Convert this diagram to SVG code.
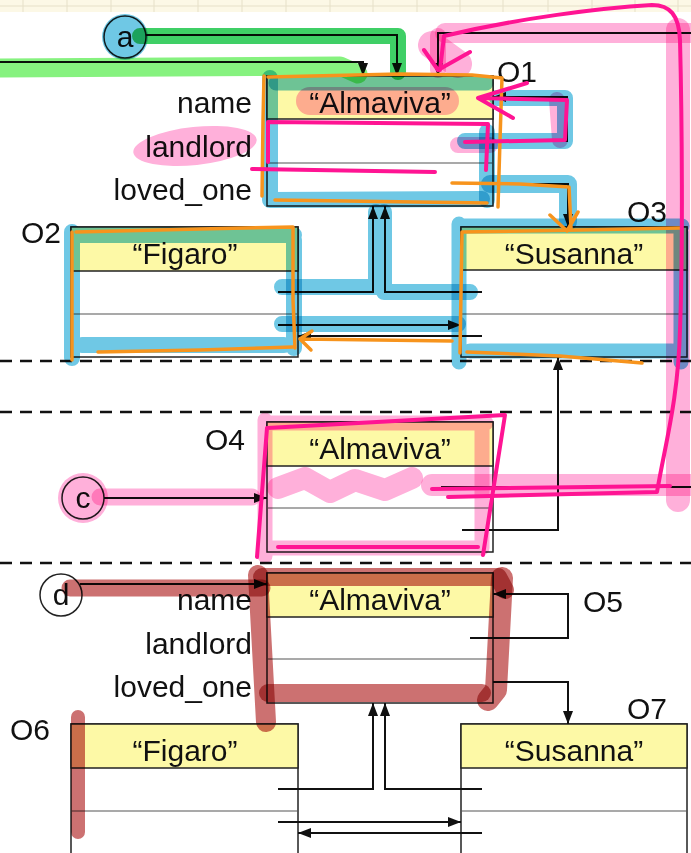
<svg xmlns="http://www.w3.org/2000/svg" width="691" height="853" viewBox="0 0 691 853">
<defs>
<marker id="ah" viewBox="0 0 13 10" refX="13" refY="5" markerWidth="13" markerHeight="10" markerUnits="userSpaceOnUse" orient="auto">
<path d="M0,0 L13,5 L0,10 z" fill="#111"/>
</marker>
<style>
.box{fill:#fff;stroke:#222;stroke-width:1.5}
.hdr{fill:#fdf9a6;stroke:#222;stroke-width:1.5}
.dv{stroke:#555;stroke-width:1.2}
.t{font-family:"Liberation Sans",Arial,sans-serif;font-size:30px;fill:#111}
.m{text-anchor:middle}
.r{text-anchor:end}
.con{fill:none;stroke:#111;stroke-width:2;marker-end:url(#ah)}
.dash{stroke:#111;stroke-width:2.5;stroke-dasharray:12 8}
.circ{fill:#fff;stroke:#222;stroke-width:1.5}
.hl{fill:none;stroke-linecap:round;stroke-linejoin:round;mix-blend-mode:multiply}
.hb{stroke:#6fc8e5}
.hg{stroke:#3fcf66}
.hlg{stroke:#86f27f}
.hp{stroke:#ffb0da}
.hr{stroke:#cc7171}
.pen{fill:none;stroke-linecap:round;stroke-linejoin:round;stroke-width:3.5}
.po{stroke:#f7941d}
.pp{stroke:#ff1493;stroke-width:4}
.grid{stroke:#e6e0c8;stroke-width:1}
</style>
</defs>
<rect x="0" y="0" width="691" height="853" fill="#fff"/>
<g id="grid">
<rect x="0" y="0" width="691" height="12" fill="#fcf8e6"/>
<path class="grid" d="M0,6H691M23,0V12M67,0V12M111,0V12M154,0V12M198,0V12M242,0V12M286,0V12M330,0V12M373,0V12M417,0V12M460,0V12M503,0V12M548,0V12M592,0V12M635,0V12M678,0V12"/>
</g>
<g id="separators">
<line class="dash" x1="0" y1="361" x2="691" y2="361"/>
<line class="dash" x1="0" y1="412" x2="691" y2="412"/>
<line class="dash" x1="0" y1="563" x2="691" y2="563"/>
</g>
<g id="a"><circle class="circ" cx="125" cy="37" r="21"/><text class="t m" x="125" y="47">a</text></g>
<g id="c"><circle class="circ" cx="83" cy="498" r="21"/><text class="t m" x="83" y="508">c</text></g>
<g id="d"><circle class="circ" cx="61" cy="595" r="21"/><text class="t m" x="61" y="605">d</text></g>
<g id="O1">
<rect class="box" x="267" y="76" width="226" height="130"/>
<rect class="hdr" x="267" y="76" width="226" height="43"/>
<line class="dv" x1="267" y1="163" x2="493" y2="163"/>
<text class="t m" x="380" y="113">“Almaviva”</text>
<text class="t r" x="252" y="113">name</text>
<text class="t r" x="252" y="157">landlord</text>
<text class="t r" x="252" y="200">loved_one</text>
<text class="t" x="497" y="82">O1</text>
</g>
<g id="O2">
<rect class="box" x="71" y="227" width="227" height="130"/>
<rect class="hdr" x="71" y="227" width="227" height="44"/>
<line class="dv" x1="71" y1="314" x2="298" y2="314"/>
<text class="t m" x="185" y="264">“Figaro”</text>
<text class="t" x="21" y="243">O2</text>
</g>
<g id="O3">
<rect class="box" x="461" y="227" width="226" height="130"/>
<rect class="hdr" x="461" y="227" width="226" height="43"/>
<line class="dv" x1="461" y1="314" x2="687" y2="314"/>
<text class="t m" x="574" y="264">“Susanna”</text>
<text class="t" x="627" y="222">O3</text>
</g>
<g id="O4">
<rect class="box" x="267" y="422" width="226" height="130"/>
<rect class="hdr" x="267" y="422" width="226" height="44"/>
<line class="dv" x1="267" y1="508" x2="493" y2="508"/>
<text class="t m" x="380" y="459">“Almaviva”</text>
<text class="t" x="205" y="450">O4</text>
</g>
<g id="O5">
<rect class="box" x="267" y="573" width="226" height="130"/>
<rect class="hdr" x="267" y="573" width="226" height="44"/>
<line class="dv" x1="267" y1="659" x2="493" y2="659"/>
<text class="t m" x="380" y="610">“Almaviva”</text>
<text class="t r" x="252" y="610">name</text>
<text class="t r" x="252" y="654">landlord</text>
<text class="t r" x="252" y="697">loved_one</text>
<text class="t" x="583" y="612">O5</text>
</g>
<g id="O6">
<rect class="box" x="71" y="724" width="227" height="140"/>
<rect class="hdr" x="71" y="724" width="227" height="44"/>
<line class="dv" x1="71" y1="811" x2="298" y2="811"/>
<text class="t m" x="185" y="761">“Figaro”</text>
<text class="t" x="10" y="740">O6</text>
</g>
<g id="O7">
<rect class="box" x="461" y="724" width="226" height="140"/>
<rect class="hdr" x="461" y="724" width="226" height="44"/>
<line class="dv" x1="461" y1="811" x2="687" y2="811"/>
<text class="t m" x="574" y="761">“Susanna”</text>
<text class="t" x="627" y="719">O7</text>
</g>
<g id="connectors">
<path class="con" d="M146,35H397V76"/>
<path class="con" d="M0,62H363V76"/>
<path class="con" d="M441,487H700V33H438V76"/>
<path class="con" d="M470,141H567V97H493"/>
<path class="con" d="M493,184H568V227"/>
<path class="con" d="M278,292H373V206"/>
<path class="con" d="M482,292H385V206"/>
<path class="con" d="M278,325H461"/>
<path class="con" d="M482,336H298"/>
<path class="con" d="M104,498H267"/>
<path class="con" d="M462,530H558V357"/>
<path class="con" d="M80,584H267"/>
<path class="con" d="M470,638H568V594H493"/>
<path class="con" d="M493,682H568V724"/>
<path class="con" d="M278,789H373V703"/>
<path class="con" d="M482,789H385V703"/>
<path class="con" d="M278,822H461"/>
<path class="con" d="M482,833H298"/>
</g>
<g id="highlights">
<circle cx="125" cy="37" r="23" fill="#6fc8e5" style="mix-blend-mode:multiply"/>
<path class="hl hb" stroke-width="16" d="M270,78L270,200L482,199"/>
<path class="hl hb" stroke-width="15" d="M276,83L486,83"/>
<path class="hl hb" stroke-width="16" d="M487,132L487,200"/>
<path class="hl hb" stroke-width="16" d="M465,141H565V98H497"/>
<path class="hl hb" stroke-width="18" d="M490,184H568V222"/>
<path class="hl hb" stroke-width="16" d="M72,232L72,358M75,235L294,235M294,240V348M82,345H284"/>
<path class="hl hb" stroke-width="16" d="M282,287H376V212M384,212V292H470M282,324H458"/>
<path class="hl hb" stroke-width="15" d="M459,224V362M463,226H682M470,351H672M681,232V362"/>
<path class="hl hg" stroke-width="16" d="M140,36H398V72"/>
<path class="hl hlg" stroke-width="19" d="M0,68L340,66L358,74"/>
<ellipse cx="195" cy="146" rx="62" ry="19" fill="#ffb0da" style="mix-blend-mode:multiply" transform="rotate(-6 195 146)"/>
<path class="hl hp" stroke-width="28" d="M310,101H445"/>
<path class="hl hp" stroke-width="16" d="M458,145H490M557,100L560,140"/>
<path class="hl hp" stroke-width="20" d="M445,33H700"/>
<path class="hl hp" stroke-width="16" d="M438,36V70"/>
<path class="hl hp" stroke-width="28" d="M432,45L458,64"/>
<path class="hl hp" stroke-width="24" d="M678,30V500"/>
<path class="hl hp" stroke-width="22" d="M432,485H700"/>
<path class="hl hp" stroke-width="15" d="M265,420V556M270,423H486M482,428V548M272,548H480"/>
<path class="hl hp" stroke-width="22" d="M278,488L305,478L330,492L355,480L385,490L412,478"/>
<circle cx="83" cy="498" r="25" fill="#ffb0da" style="mix-blend-mode:multiply"/>
<path class="hl hp" stroke-width="17" d="M100,497H252"/>
<path class="hl hr" stroke-width="17" d="M70,588H262"/>
<path class="hl hr" stroke-width="18" d="M262,577H498L505,590"/>
<path class="hl hr" stroke-width="20" d="M258,575L266,722"/>
<path class="hl hr" stroke-width="18" d="M268,693H482"/>
<path class="hl hr" stroke-width="22" d="M502,578L496,690L488,700"/>
<path class="hl hr" stroke-width="14" d="M78,717V832"/>
</g>
<g id="pen">
<path class="pen po" d="M268,77L400,74L472,75L502,78L500,140L498,207M264,76L263,120L262,196M275,200L487,203"/>
<path class="pen po" d="M452,183L520,184L569,187L571,228M550,215L567,231L578,212"/>
<path class="pen po" d="M76,232L200,229L293,227L293,300L295,348M72,232L72,360M98,352L200,350L293,347"/>
<path class="pen po" d="M452,341L302,339M312,331L300,339L311,350"/>
<path class="pen po" d="M462,232L580,230L680,228M462,232L460,353M467,352L560,356L642,363"/>
<path class="pen pp" d="M448,497L657,492C666,440 678,400 680,330C683,250 682,120 680,40C679,15 670,5 652,5C600,8 520,18 444,36L440,70M424,50L438,70L470,52"/>
<path class="pen pp" d="M432,489L670,486"/>
<path class="pen pp" d="M268,162L268,122L488,124L486,170"/>
<path class="pen pp" d="M252,169L435,172"/>
<path class="pen pp" d="M465,142L565,140L567,100L478,98M527,83L478,98L513,118"/>
<path class="pen pp" d="M257,557L267,428L505,415L483,555M278,547L478,547"/>
</g>
</svg>
